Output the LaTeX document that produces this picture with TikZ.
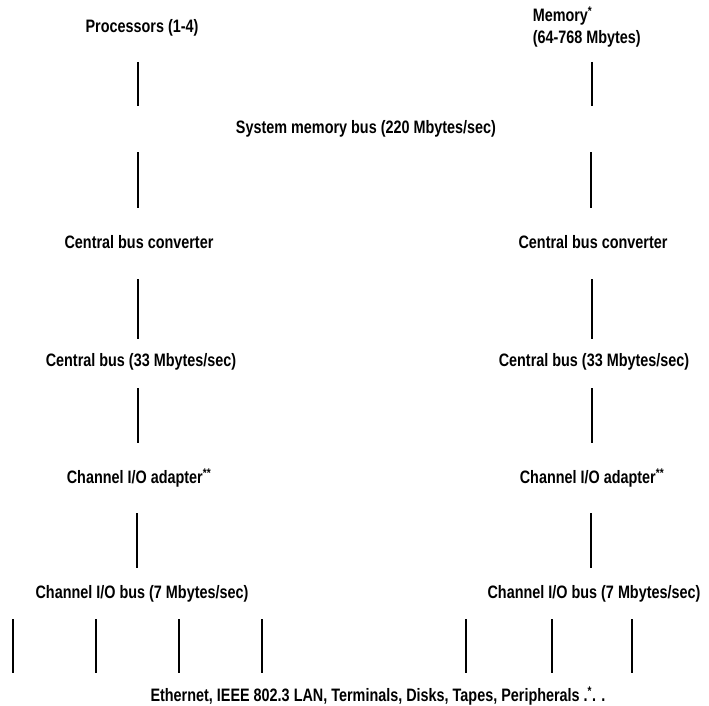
\documentclass[tikz,border=0pt]{standalone}
\usepackage{fontspec}
\setmainfont{Liberation Sans}[FakeStretch=0.8]
\usepackage{tikz}
\usetikzlibrary{positioning}
\tikzstyle{lb}=[inner sep=0pt, font=\bfseries\fontsize{18}{22}\selectfont]
\tikzstyle{bus}=[line width=1.5pt]

\begin{document}
\begin{tikzpicture}
[x=1pt,y=-1pt,bus]
 \useasboundingbox (0,0) rectangle (709,706);
 % text of the two columns
 \node[lb] (proc) at (142,28) {Processors (1-4)};
 \node[lb,align=left,anchor=west] (mem) at (532,27) {Memory\textsuperscript{*}\\(64-768 Mbytes)};
 \node[lb] (smb) at (366,129) {System memory bus (220 Mbytes/sec)};
 \node[lb] (cbcl) at (139,242) {Central bus converter};
 \node[lb] (cbcr) at (593,242) {Central bus converter};
 \node[lb] (cbl) at (141,362) {Central bus (33 Mbytes/sec)};
 \node[lb] (cbr) at (594,362) {Central bus (33 Mbytes/sec)};
 \node[lb] (cial) at (139,478) {Channel I/O adapter\textsuperscript{**}};
 \node[lb] (ciar) at (592,478) {Channel I/O adapter\textsuperscript{**}};
 \node[lb] (ciobl) at (142,594) {Channel I/O bus (7 Mbytes/sec)};
 \node[lb] (ciobr) at (594,594) {Channel I/O bus (7 Mbytes/sec)};
 \node[lb] (eth) at (378,696) {Ethernet, IEEE 802.3 LAN, Terminals, Disks, Tapes, Peripherals .\textsuperscript{*}. .};
 % line ends, left column
 \coordinate (l1a) at (138,62);  \coordinate (l1b) at (138,106);
 \coordinate (l2a) at (138,152); \coordinate (l2b) at (138,208);
 \coordinate (l3a) at (138,279); \coordinate (l3b) at (138,339);
 \coordinate (l4a) at (138,388); \coordinate (l4b) at (138,443);
 \coordinate (l5a) at (137,513); \coordinate (l5b) at (137,568);
 % line ends, right column
 \coordinate (r1a) at (592,62);  \coordinate (r1b) at (592,106);
 \coordinate (r2a) at (591,152); \coordinate (r2b) at (591,208);
 \coordinate (r3a) at (592,279); \coordinate (r3b) at (592,339);
 \coordinate (r4a) at (592,388); \coordinate (r4b) at (592,443);
 \coordinate (r5a) at (591,513); \coordinate (r5b) at (591,568);
 % devices on the channel buses
 \coordinate (d1a) at (13,619);  \coordinate (d1b) at (13,673);
 \coordinate (d2a) at (96,619);  \coordinate (d2b) at (96,673);
 \coordinate (d3a) at (179,619); \coordinate (d3b) at (179,673);
 \coordinate (d4a) at (262,619); \coordinate (d4b) at (262,673);
 \coordinate (d5a) at (466,619); \coordinate (d5b) at (466,673);
 \coordinate (d6a) at (552,619); \coordinate (d6b) at (552,673);
 \coordinate (d7a) at (632,619); \coordinate (d7b) at (632,673);
 \path[]
   (l1a) edge (l1b)
   (l2a) edge (l2b)
   (l3a) edge (l3b)
   (l4a) edge (l4b)
   (l5a) edge (l5b)
   (r1a) edge (r1b)
   (r2a) edge (r2b)
   (r3a) edge (r3b)
   (r4a) edge (r4b)
   (r5a) edge (r5b)
   (d1a) edge (d1b)
   (d2a) edge (d2b)
   (d3a) edge (d3b)
   (d4a) edge (d4b)
   (d5a) edge (d5b)
   (d6a) edge (d6b)
   (d7a) edge (d7b);
\end{tikzpicture}
\end{document}
